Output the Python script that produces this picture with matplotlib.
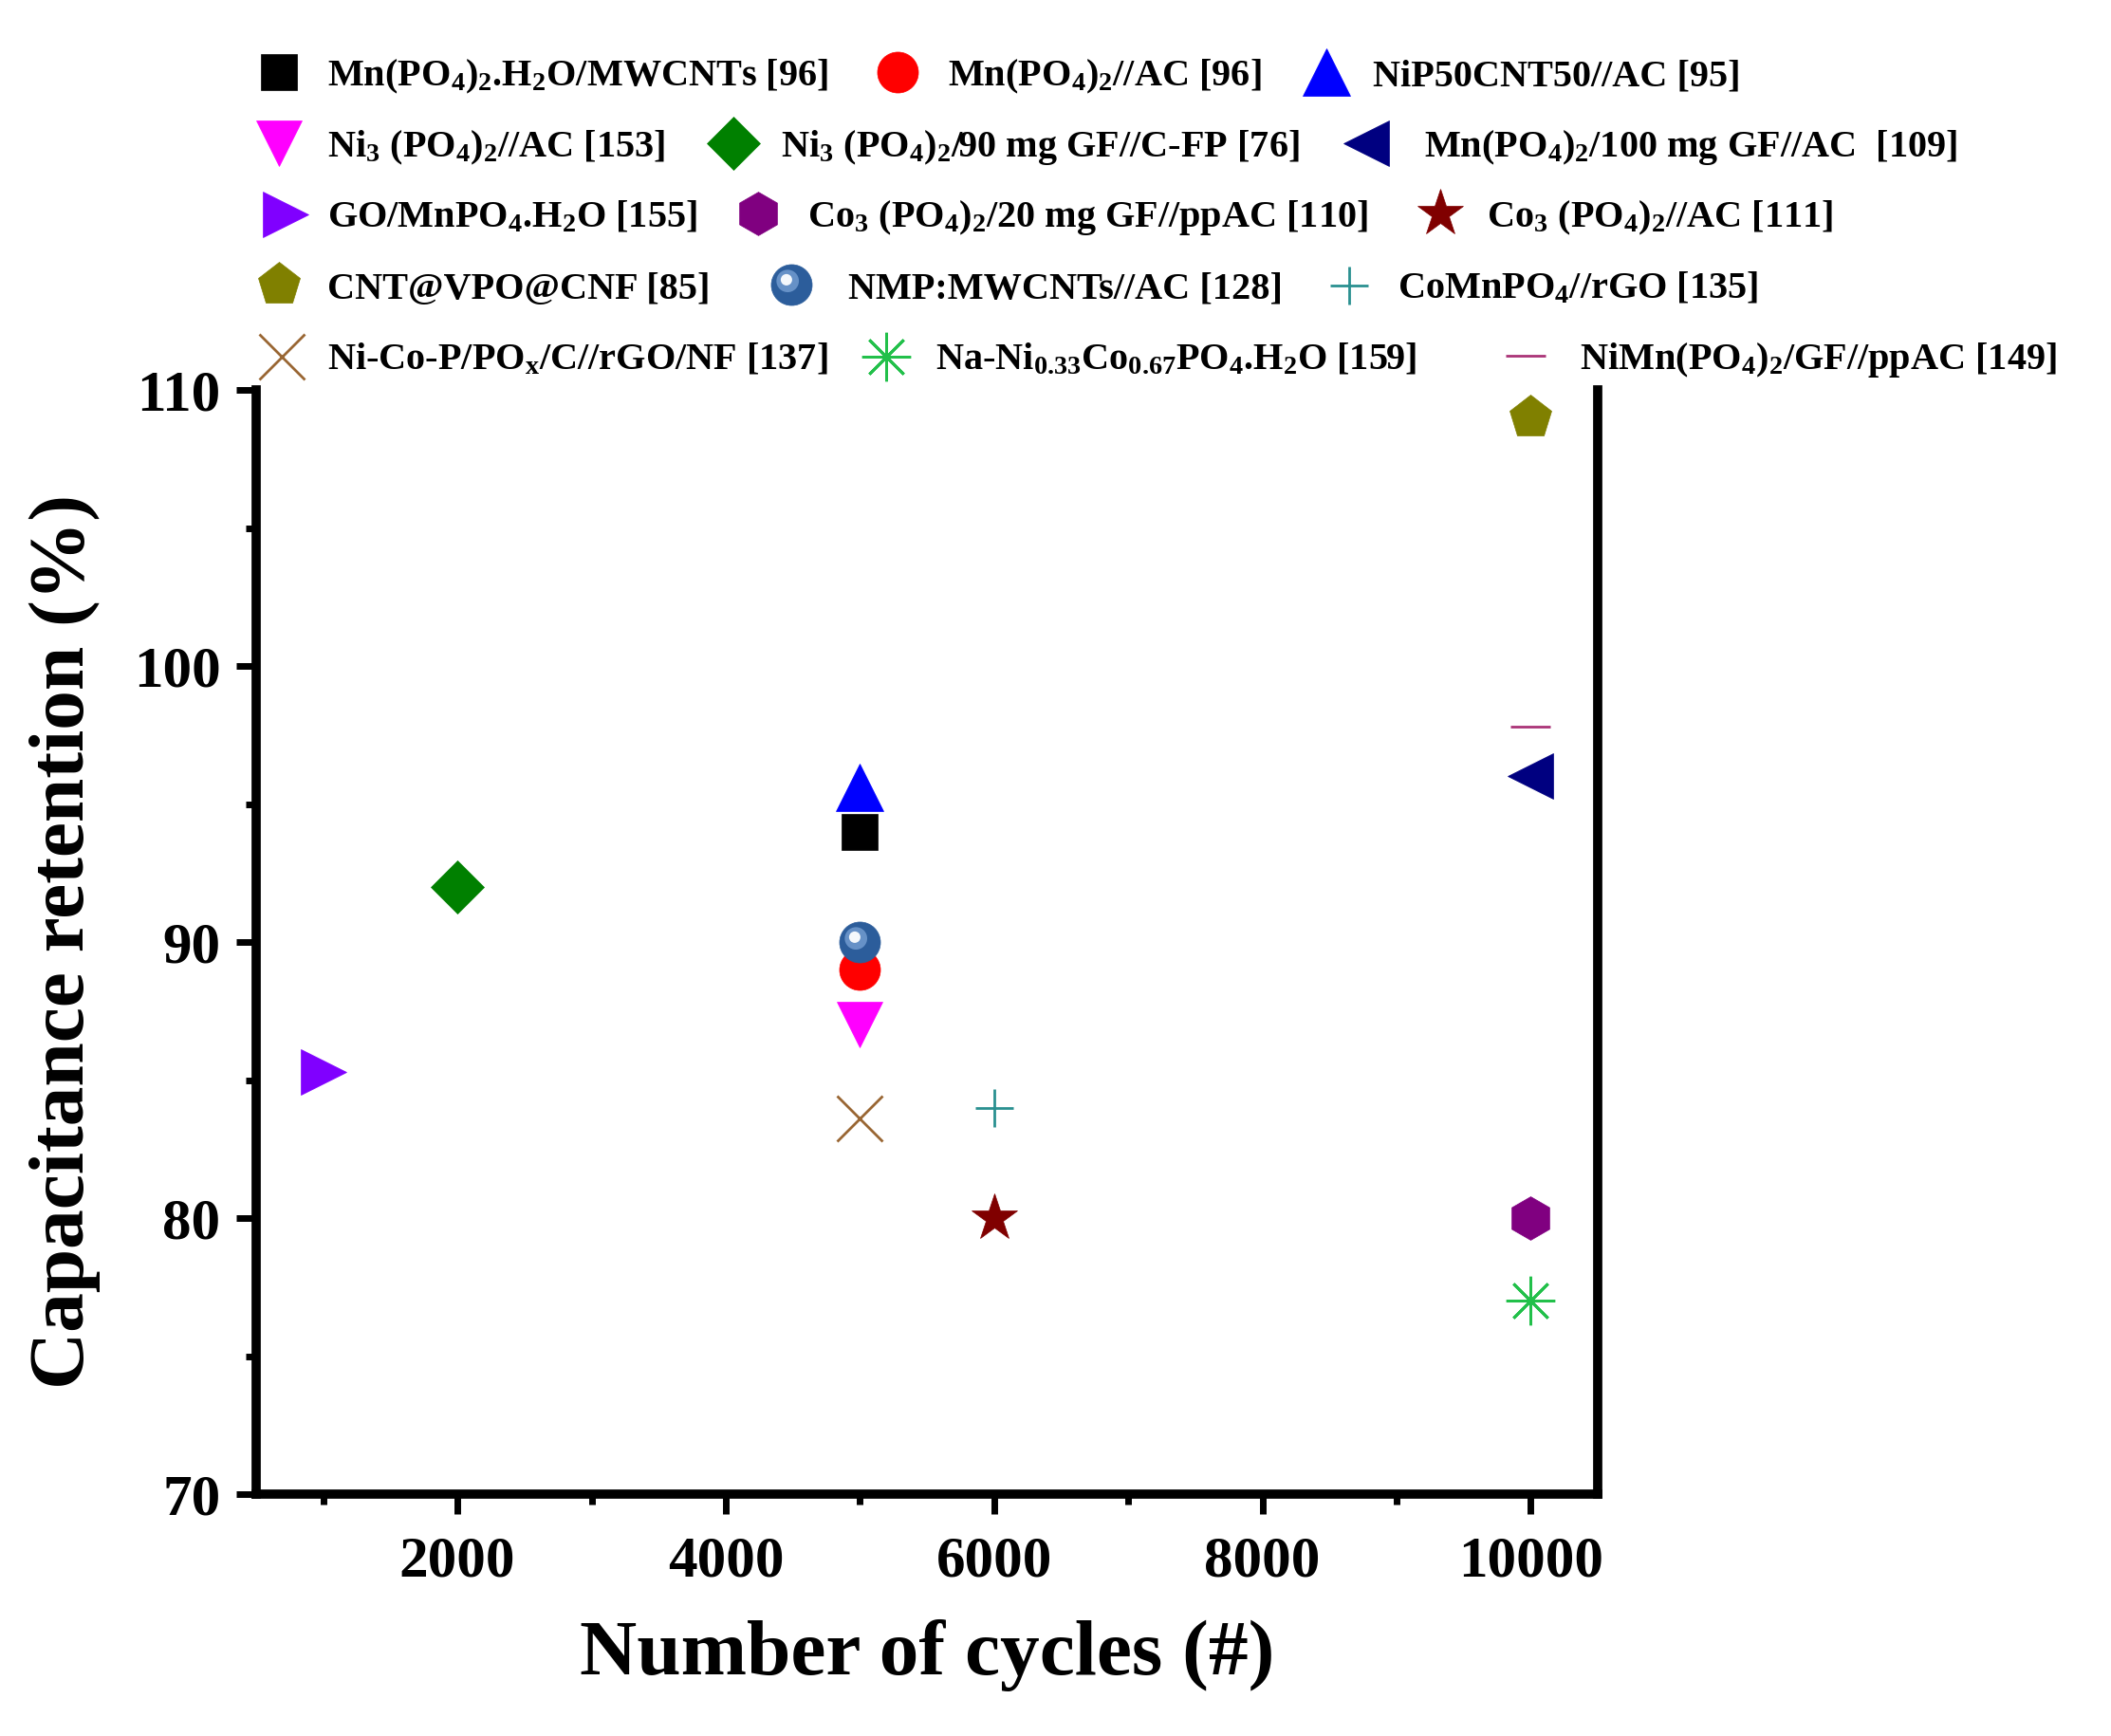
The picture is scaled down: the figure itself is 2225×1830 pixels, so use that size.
import numpy as np
import matplotlib
matplotlib.use("Agg")
import matplotlib.pyplot as plt
from matplotlib.markers import MarkerStyle
from matplotlib.transforms import Affine2D
from matplotlib.legend_handler import HandlerTuple

plt.rcParams['font.family'] = ['Liberation Serif', 'DejaVu Serif']
plt.rcParams['font.weight'] = 'bold'
plt.rcParams['mathtext.fontset'] = 'custom'
plt.rcParams['mathtext.rm'] = 'Liberation Serif:bold'
plt.rcParams['mathtext.bf'] = 'Liberation Serif:bold'
plt.rcParams['mathtext.it'] = 'Liberation Serif:bold'
plt.rcParams['mathtext.default'] = 'rm'

# ---- data ----
labels = [
    "Mn(PO$_4$)$_2$.H$_2$O/MWCNTs [96]",
    "Mn(PO$_4$)$_2$//AC [96]",
    "NiP50CNT50//AC [95]",
    "Ni$_3$ (PO$_4$)$_2$//AC [153]",
    "Ni$_3$ (PO$_4$)$_2$/90 mg GF//C-FP [76]",
    "Mn(PO$_4$)$_2$/100 mg GF//AC  [109]",
    "GO/MnPO$_4$.H$_2$O [155]",
    "Co$_3$ (PO$_4$)$_2$/20 mg GF//ppAC [110]",
    "Co$_3$ (PO$_4$)$_2$//AC [111]",
    "CNT@VPO@CNF [85]",
    "NMP:MWCNTs//AC [128]",
    "CoMnPO$_4$//rGO [135]",
    "Ni-Co-P/PO$_x$/C//rGO/NF [137]",
    "Na-Ni$_{0.33}$Co$_{0.67}$PO$_4$.H$_2$O [159]",
    "NiMn(PO$_4$)$_2$/GF//ppAC [149]",
]
cycles = [5000, 5000, 5000, 5000, 2000, 10000, 1000, 10000, 6000, 10000, 5000, 6000, 5000, 10000, 10000]
retention = [94, 89, 95.6, 87, 92, 96, 85.3, 80, 80, 109, 90, 84, 83.6, 77, 97.8]

# ---- styles ----
markers = ['s', 'o', '^', 'v', 'D', '<', '>', 'h', '*', 'p', 'o', '+', 'x', (8, 2, 0), '_']
colors = ['#000000', '#ff0000', '#0000ff', '#ff00ff', '#008000', '#000080', '#8000ff',
          '#800080', '#800000', '#808000', '#2c5d9b', '#2a9090', '#996633', '#22c04a', '#aa3377']
sizes = [27, 31, 36, 35, 29, 34, 34, 33, 37, 34, 31, 29, 34, 37, 30]
line_marker = {'+', 'x', '_'}

W, H = 2225, 1830
fig = plt.figure(figsize=(W / 100, H / 100), dpi=100)
ax = fig.add_axes([270 / W, 1 - 1575 / H, (1684 - 270) / W, (1575 - 411) / H])

handles = []
for i in range(len(labels)):
    m = markers[i]
    if m in line_marker or isinstance(m, tuple):
        h, = ax.plot(cycles[i], retention[i], linestyle='none', marker=m, markersize=sizes[i],
                     color=colors[i], markeredgewidth=2.0, clip_on=False, zorder=3)
    else:
        h, = ax.plot(cycles[i], retention[i], linestyle='none', marker=m, markersize=sizes[i],
                     color=colors[i], markeredgecolor=colors[i], markeredgewidth=0.5,
                     clip_on=False, zorder=3)
    if i == 10:
        # shaded sphere look
        hl1 = MarkerStyle('o', transform=Affine2D().scale(0.55).translate(-0.1, 0.1))
        hl2 = MarkerStyle('o', transform=Affine2D().scale(0.28).translate(-0.13, 0.13))
        h1, = ax.plot(cycles[i], retention[i], linestyle='none', marker=hl1, markersize=sizes[i],
                      color='#7aa3d6', markeredgewidth=0, alpha=0.75, clip_on=False, zorder=3)
        h2, = ax.plot(cycles[i], retention[i], linestyle='none', marker=hl2, markersize=sizes[i],
                      color='#f4f8fc', markeredgewidth=0, clip_on=False, zorder=3)
        h = (h, h1, h2)
    handles.append(h)

ax.set_xlim(500, 10500)
ax.set_ylim(70, 110)
ax.set_xticks([2000, 4000, 6000, 8000, 10000])
ax.set_xticks([1000, 3000, 5000, 7000, 9000], minor=True)
ax.set_yticks([70, 80, 90, 100, 110])
ax.set_yticks([75, 85, 95, 105], minor=True)

for s in ['left', 'bottom', 'right']:
    ax.spines[s].set_linewidth(7)
ax.spines['top'].set_visible(False)
ax.tick_params(which='major', direction='out', length=15, width=5, labelsize=44, pad=12)
ax.tick_params(which='minor', direction='out', length=8, width=5)
ax.tick_params(axis='x', which='major', pad=16)
for t in ax.get_xticklabels() + ax.get_yticklabels():
    t.set_fontweight('bold')

ax.set_xlabel("Number of cycles (#)", fontsize=60, fontweight='bold')
ax.set_ylabel("Capacitance retention (%)", fontsize=60, fontweight='bold')
ax.xaxis.set_label_coords(0.5, -0.113)
ax.yaxis.set_label_coords(-0.116, 0.5)

# ---- legend entries, placed one by one like the original ----
row_y = [81, 156, 230, 305, 380]
marker_x = [294, 946, 1398, 294, 773, 1440, 301, 799, 1518, 294, 834, 1422, 297, 934, 1608]
text_x = [345, 999, 1447, 345, 823, 1501, 345, 851, 1567, 345, 894, 1473, 345, 986, 1665]
fs = 29
fs_px = fs * 100 / 72
hlen = 1.3
for i in range(len(labels)):
    y = 1 - row_y[i // 3] / H
    x0 = marker_x[i] - hlen * fs_px / 2
    pad = (text_x[i] - marker_x[i]) / fs_px - hlen / 2
    fig.legend([handles[i]], [labels[i]], loc='center left',
               bbox_to_anchor=(x0 / W, y), bbox_transform=fig.transFigure,
               frameon=False, borderpad=0, borderaxespad=0, handlelength=hlen,
               handletextpad=pad, numpoints=1,
               handler_map={tuple: HandlerTuple(ndivide=1, pad=0)},
               prop={'weight': 'bold', 'size': fs})

fig.savefig("out.png", dpi=100)
